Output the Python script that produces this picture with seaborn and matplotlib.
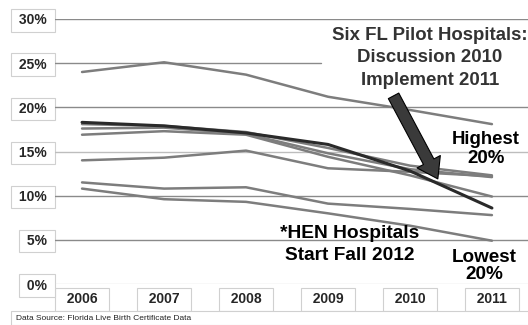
import matplotlib
matplotlib.use("Agg")
import matplotlib.pyplot as plt
from matplotlib.patches import FancyArrowPatch, Rectangle
import seaborn as sns
import pandas as pd

years = ["2006", "2007", "2008", "2009", "2010", "2011"]

# Cesarean rates (%) by hospital group
top_group = [24.0, 25.1, 23.7, 21.2, 19.7, 18.1]
pilot_avg = [18.3, 17.9, 17.1, 15.8, 12.8, 8.6]
group_a = [18.1, 17.9, 17.2, 15.4, 13.4, 12.3]
group_b = [17.6, 17.7, 17.0, 14.8, 13.0, 12.1]
group_c = [16.9, 17.3, 16.9, 14.4, 12.3, 9.9]
group_d = [14.0, 14.3, 15.1, 13.1, 12.7, 12.2]
group_e = [11.5, 10.8, 10.95, 9.1, 8.5, 7.8]
group_f = [10.8, 9.6, 9.3, 8.0, 6.6, 4.9]

y_ticks = [0, 5, 10, 15, 20, 25, 30]
y_tick_labels = ["0%", "5%", "10%", "15%", "20%", "25%", "30%"]

series = {
    "top": top_group, "a": group_a, "b": group_b, "c": group_c,
    "d": group_d, "e": group_e, "f": group_f, "pilot": pilot_avg,
}

rows = []
for name, vals in series.items():
    for yr, v in zip(years, vals):
        rows.append({"series": name, "year": yr, "pos": years.index(yr), "value": v})
df = pd.DataFrame(rows)

sns.set_theme(style="white")
plt.rcParams["font.family"] = ["Liberation Sans", "DejaVu Sans"]

fig = plt.figure(figsize=(5.28, 3.25), dpi=100)
ax = fig.add_axes([55 / 528, (325 - 284) / 325, (528 - 55) / 528, 265 / 325])

# horizontal guides (the 25% guide stops short of the pilot-hospital note)
for t in y_ticks[1:]:
    col = "#bdbdbd" if t == 15 else "#8a8a8a"
    xmax = 0.562 if t == 25 else 1.0
    ax.axhline(t, xmax=xmax, color=col, lw=1.0, zorder=1)
ax.axhline(0, color="#e0e0e0", lw=1.0, zorder=1)

for name in series:
    sub = df[df["series"] == name]
    if name == "pilot":
        sns.lineplot(data=sub, x="pos", y="value", color="#2a2a2a", lw=2.2,
                     ax=ax, zorder=4, legend=False)
    else:
        sns.lineplot(data=sub, x="pos", y="value", color="#7d7d7d", lw=1.8,
                     ax=ax, zorder=3, legend=False)

ax.set_xlim(-0.33, 5.44)
ax.set_ylim(0, 30)
for s in ax.spines.values():
    s.set_visible(False)
ax.set_xlabel("")
ax.set_ylabel("")

ax.set_xticks(range(len(years)))
ax.set_xticklabels([f"  {y}  " for y in years], fontsize=10, fontweight="bold")
ax.set_yticks(y_ticks)
ax.set_yticklabels([f" {t} " for t in y_tick_labels], fontsize=10, fontweight="bold")
ax.tick_params(axis="x", length=0, pad=6)
ax.tick_params(axis="y", length=0, pad=3)
box = dict(boxstyle="square,pad=0.3", fc="white", ec="#d0d0d0", lw=0.8)
for lbl in ax.get_xticklabels() + ax.get_yticklabels():
    lbl.set_bbox(box)

# annotations
ax.text(4.24, 25.6, "Six FL Pilot Hospitals:\nDiscussion 2010\nImplement 2011",
        ha="center", va="center", fontsize=13.4, fontweight="bold",
        color="#333333", linespacing=1.45, zorder=2)
ax.text(4.93, 15.3, "Highest\n20%", ha="center", va="center", fontsize=13.4,
        fontweight="bold", color="black", linespacing=1.15, zorder=5)
ax.text(3.27, 4.5, "*HEN Hospitals\nStart Fall 2012", ha="center", va="center",
        fontsize=13.8, fontweight="bold", color="black", linespacing=1.4,
        zorder=5)
ax.text(4.91, 2.0, "Lowest\n20%", ha="center", va="center", fontsize=13.6,
        fontweight="bold", color="black", linespacing=1.0, zorder=5)

arrow = FancyArrowPatch((3.80, 21.3), (4.34, 11.9),
                        arrowstyle="simple,tail_width=8.5,head_width=19,head_length=14",
                        mutation_scale=1, shrinkA=0, shrinkB=0,
                        fc="#3a3a3a", ec="black", lw=0.8, zorder=6)
ax.add_patch(arrow)

# source note
fig.patches.append(Rectangle((11 / 528, 0), 1, 14 / 325, transform=fig.transFigure,
                             fc="white", ec="#d0d0d0", lw=0.8, zorder=0))
fig.text(16 / 528, 7 / 325, "Data Source: Florida Live Birth Certificate Data",
         fontsize=6, color="#222222", va="center", ha="left")

fig.savefig("out.png", dpi=100)
